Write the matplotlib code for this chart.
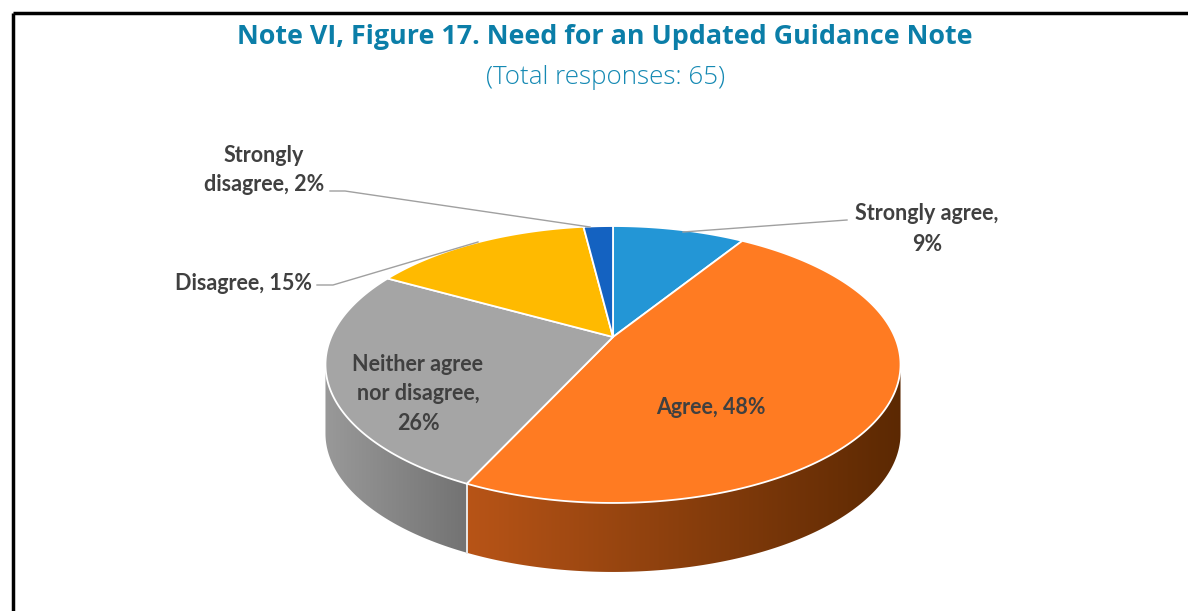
import numpy as np
import matplotlib
matplotlib.use("Agg")
import matplotlib.pyplot as plt
from matplotlib.patches import Polygon

# ---- data ----
categories = ["Strongly agree", "Agree", "Neither agree nor disagree", "Disagree", "Strongly disagree"]
values = [9, 48, 26, 15, 2]
labels = ["Strongly agree,\n9%", "Agree, 48%", "Neither agree\nnor disagree,\n26%", "Disagree, 15%", "Strongly\ndisagree, 2%"]
colors = ["#2396D6", "#FF7B22", "#A5A5A5", "#FFBA00", "#1462C1"]
title = "Note VI, Figure 17. Need for an Updated Guidance Note"
subtitle = "(Total responses: 65)"

W, H = 1188, 611
fig = plt.figure(figsize=(W / 100, H / 100), dpi=100)
ax = fig.add_axes([0, 0, 1, 1])
ax.set_xlim(0, W)
ax.set_ylim(H, 0)
ax.axis("off")

# perspective pie geometry (pixel space)
cx, cy = 613.0, 337.0
k = -0.1986
B = 133.0
A = 281.8
depth = 69.0


def proj(theta_deg):
    t = np.radians(theta_deg)
    u = np.sin(t)
    v = -np.cos(t)
    w = 1 + k * v
    return cx + A * u / w, cy + B * v / w


vals = np.array(values, dtype=float)
bounds = np.concatenate([[0], np.cumsum(vals) / vals.sum() * 360.0])

front_lo = np.degrees(np.arccos(k))        # right extreme
front_hi = 360 - front_lo                   # left extreme

side_grad = {1: ((0.72, 0.33, 0.09), (0.36, 0.16, 0.01)),
             2: ((0.60, 0.60, 0.60), (0.45, 0.45, 0.45))}

# side walls
for i in range(len(vals)):
    a0, a1 = bounds[i], bounds[i + 1]
    s0, s1 = max(a0, front_lo), min(a1, front_hi)
    if s1 <= s0:
        continue
    th = np.linspace(s0, s1, 200)
    x, y = proj(th)
    xs = np.concatenate([x, x[::-1]])
    ys = np.concatenate([y, y[::-1] + depth])
    poly = Polygon(np.column_stack([xs, ys]), closed=True, facecolor="none",
                   edgecolor="none")
    ax.add_patch(poly)
    c0, c1 = side_grad.get(i, ((0.5, 0.5, 0.5), (0.3, 0.3, 0.3)))
    x0, x1 = xs.min(), xs.max()
    y0, y1 = ys.min(), ys.max()
    n = 256
    tt = np.linspace(0, 1, n)
    grad = np.zeros((2, n, 3))
    for ch in range(3):
        grad[:, :, ch] = c0[ch] + (c1[ch] - c0[ch]) * tt
    im = ax.imshow(grad, extent=(x0, x1, y1, y0), aspect="auto", zorder=1,
                   interpolation="bilinear")
    im.set_clip_path(poly)
    for ang in (a0, a1):
        if front_lo < ang < front_hi:
            px, py = proj(ang)
            ax.plot([px, px], [py, py + depth], color="#E8E8E8", lw=1.2, zorder=2)

# top wedges
for i in range(len(vals)):
    a0, a1 = bounds[i], bounds[i + 1]
    th = np.linspace(a0, a1, 200)
    x, y = proj(th)
    xs = np.concatenate([[cx], x])
    ys = np.concatenate([[cy], y])
    ax.add_patch(Polygon(np.column_stack([xs, ys]), closed=True,
                         facecolor=colors[i], edgecolor="white", lw=1.3,
                         zorder=3, joinstyle="round"))

txt_color = "#404040"
font = "Lato"
fs = 15.5
kw = dict(color=txt_color, fontsize=fs, fontweight="bold", family=font, zorder=5)

ax.text(711, 408, labels[1], ha="center", va="center", **kw)
ax.text(418, 394, labels[2], ha="center", va="center", linespacing=1.52, **kw)
ax.text(927, 229, labels[0], ha="center", va="center", linespacing=1.55, **kw)
ax.text(312, 283, labels[3], ha="right", va="center", **kw)
ax.text(264, 170, labels[4], ha="center", va="center", linespacing=1.52, **kw)

lc = "#A0A0A0"
ax.plot([847, 683], [220, 232], color=lc, lw=1, zorder=4)
ax.plot([330, 345, 590], [191, 191, 227], color=lc, lw=1, zorder=4)
ax.plot([317, 333, 478], [285, 285, 242], color=lc, lw=1, zorder=4)

# titles
ax.text(605, 37, title, ha="center", va="center", color="#0B7EA8",
        fontsize=19.4, fontweight="bold", family="Open Sans")
ax.text(606, 77, subtitle, ha="center", va="center", color="#1589B3",
        fontsize=18.7, fontweight="light", family="Open Sans")

# border lines
ax.plot([12.5, W], [12.5, 12.5], color="black", lw=2.5, solid_capstyle="butt")
ax.plot([12.5, 12.5], [12.5, H], color="black", lw=2.5, solid_capstyle="butt")

fig.savefig("out.png", dpi=100, facecolor="white")
